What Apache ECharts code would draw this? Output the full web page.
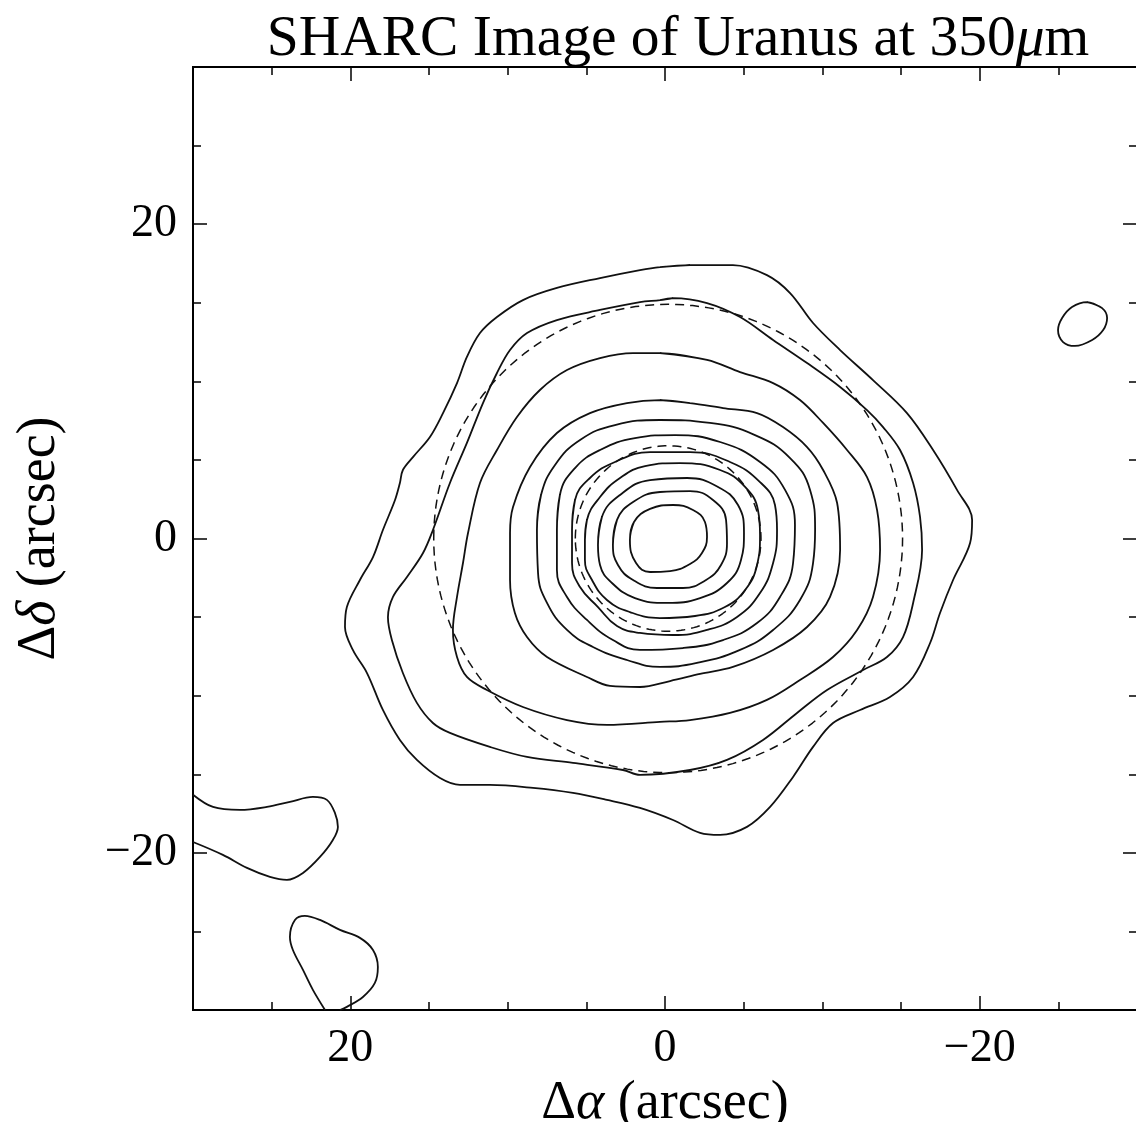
<!DOCTYPE html>
<html>
<head>
<meta charset="utf-8">
<script src="https://cdn.jsdelivr.net/npm/echarts@6/dist/echarts.min.js"></script>
<style>
  html, body { margin: 0; padding: 0; background: #fff; }
  #chart { width: 1136px; height: 1122px; }
</style>
</head>
<body>
<div id="chart"></div>
<script>
// Contour loops of the 350 micron map, outermost level first.
// Each point is [Δα, Δδ] in arcsec.
const contour11 = [
  [0.32,17.27],[-1.59,17.40],[-4.32,17.40],[-6.48,16.76],[-7.95,15.62],[-9.41,13.71],
  [-11.13,11.99],[-13.22,10.08],[-15.38,7.98],[-17.04,5.63],[-18.56,3.09],[-19.52,1.18],
  [-19.39,-0.29],[-18.31,-2.64],[-17.48,-4.74],[-16.85,-6.65],[-15.77,-8.81],[-14.30,-10.08],
  [-12.40,-10.91],[-10.68,-11.74],[-9.41,-13.26],[-8.14,-15.17],[-6.68,-17.08],[-5.21,-18.35],
  [-3.50,-18.86],[-2.23,-18.73],[-0.51,-17.91],[1.59,-17.14],[3.69,-16.63],[5.85,-16.19],
  [8.39,-15.87],[11.13,-15.68],[13.03,-15.68],[14.30,-15.24],[15.77,-14.09],[16.85,-12.82],
  [17.93,-10.91],[18.94,-8.56],[19.84,-7.09],[20.34,-5.63],[20.22,-4.36],[19.39,-2.64],
  [18.56,-1.18],[17.93,0.54],[17.16,2.45],[16.85,3.53],[16.66,4.36],[16.02,5.18],
  [14.94,6.46],[14.11,7.98],[13.22,9.89],[12.59,11.55],[11.76,13.07],[10.68,14.09],
  [9.03,15.17],[6.87,15.94],[4.13,16.57],[1.59,17.08]
];
const contour10 = [
  [0.32,15.17],[-0.51,15.30],[-2.67,14.98],[-4.77,14.09],[-6.87,12.63],[-9.03,11.16],
  [-11.13,9.64],[-12.84,8.17],[-13.86,7.09],[-14.94,5.63],[-15.77,3.53],[-16.21,1.37],
  [-16.34,-0.73],[-15.77,-4.10],[-15.13,-6.27],[-14.11,-7.54],[-12.59,-8.37],[-10.30,-9.64],
  [-8.39,-11.10],[-6.23,-12.82],[-3.94,-14.09],[-1.59,-14.73],[1.59,-15.04],[2.67,-14.73],
  [5.85,-14.28],[8.77,-13.90],[11.13,-13.26],[13.67,-12.37],[14.75,-11.74],[15.77,-10.46],
  [16.66,-8.56],[17.36,-6.46],[17.61,-5.01],[17.29,-3.72],[16.40,-2.45],[15.38,-0.92],
  [14.75,0.54],[13.67,3.53],[12.59,6.08],[11.57,8.62],[10.68,10.53],[9.85,11.99],
  [8.77,13.07],[6.87,13.90],[4.13,14.54],[1.59,15.04]
];
const contour9 = [
  [0.32,11.80],[-2.67,11.36],[-4.77,10.59],[-6.87,9.89],[-8.58,8.81],[-10.05,7.35],
  [-11.57,5.63],[-12.84,3.91],[-13.48,1.81],[-13.67,-0.73],[-13.22,-3.72],[-12.21,-5.82],
  [-10.68,-7.54],[-8.58,-9.00],[-6.48,-10.27],[-4.13,-11.10],[-1.59,-11.55],[0.32,-11.67],
  [3.69,-11.86],[6.23,-11.55],[9.03,-10.72],[11.32,-9.64],[12.59,-8.81],[13.22,-7.54],
  [13.48,-5.82],[13.22,-3.72],[12.84,-1.56],[12.52,0.35],[11.76,3.53],[10.68,5.63],
  [9.41,7.73],[7.95,9.45],[6.23,10.72],[4.13,11.48],[2.03,11.80]
];
const contour8 = [
  [0.32,8.81],[-1.59,8.62],[-3.69,8.30],[-5.85,7.98],[-7.50,7.09],[-9.03,5.82],
  [-10.05,4.36],[-10.94,2.26],[-11.13,-0.73],[-10.49,-3.72],[-9.03,-5.63],[-6.87,-7.09],
  [-4.32,-8.17],[-2.23,-8.62],[-0.32,-9.07],[1.59,-9.45],[3.50,-9.38],[4.96,-8.81],
  [7.50,-7.54],[8.77,-6.27],[9.54,-4.74],[9.85,-2.64],[9.85,0.35],[9.66,2.00],
  [8.58,4.55],[6.87,6.71],[4.77,7.98],[2.42,8.62]
];
const contour7 = [
  [8.14,0.54],[7.88,2.77],[6.99,4.68],[5.40,6.27],[3.18,7.22],[0.32,7.54],
  [-2.86,7.35],[-5.72,6.58],[-7.95,5.12],[-9.22,3.09],[-9.54,0.54],[-9.41,-1.56],
  [-8.58,-3.91],[-6.87,-5.82],[-4.77,-7.09],[-2.03,-7.92],[0.32,-8.17],[2.42,-7.73],
  [4.58,-6.90],[6.23,-5.82],[7.50,-4.10],[8.07,-2.19]
];
const contour6 = [
  [6.87,0.54],[6.68,2.77],[5.72,4.48],[4.13,5.63],[1.91,6.39],[-0.64,6.58],
  [-3.50,6.14],[-6.04,4.87],[-7.63,3.09],[-8.26,0.86],[-8.14,-1.56],[-7.31,-3.72],
  [-5.85,-5.38],[-3.69,-6.46],[-1.14,-6.97],[1.59,-7.09],[3.31,-6.46],[4.96,-5.18],
  [6.23,-3.72],[6.87,-2.00]
];
const contour5 = [
  [5.91,0.54],[5.72,2.45],[4.77,3.85],[3.18,4.87],[0.95,5.50],[-1.59,5.50],
  [-4.13,4.87],[-6.04,3.59],[-6.99,2.13],[-7.12,0.54],[-6.87,-1.56],[-6.04,-3.47],
  [-4.58,-4.99],[-2.67,-5.82],[-0.51,-6.14],[1.59,-6.01],[3.05,-5.57],[4.26,-4.36],
  [5.40,-3.09],[5.91,-1.56]
];
const contour4 = [
  [5.09,-0.10],[4.96,1.18],[4.13,2.64],[2.86,3.85],[1.27,4.61],[-0.95,4.80],
  [-3.50,4.36],[-5.09,3.28],[-5.91,1.81],[-6.04,0.22],[-5.85,-1.69],[-5.09,-3.28],
  [-3.81,-4.36],[-1.91,-4.93],[0.32,-5.06],[2.23,-4.68],[3.69,-3.91],[4.64,-2.64],
  [5.09,-1.37]
];
const contour3 = [
  [4.26,-0.41],[4.01,1.37],[2.86,2.77],[0.95,3.72],[-1.40,3.85],[-3.37,3.28],
  [-4.64,2.13],[-5.02,0.35],[-4.83,-1.37],[-3.94,-2.83],[-2.23,-3.79],[-0.13,-4.10],
  [1.91,-3.79],[3.37,-2.83],[4.13,-1.69]
];
const contour2 = [
  [3.31,-0.41],[3.05,1.18],[2.03,2.32],[0.32,2.96],[-1.59,3.02],[-3.05,2.45],
  [-3.88,1.18],[-3.94,-0.29],[-3.56,-1.69],[-2.61,-2.64],[-1.14,-3.15],[0.51,-3.15],
  [2.03,-2.64],[2.99,-1.69]
];
const contour1 = [
  [2.23,-0.10],[1.97,1.05],[0.95,1.88],[-0.51,2.13],[-1.78,1.81],[-2.54,1.05],
  [-2.67,0.10],[-2.35,-0.92],[-1.59,-1.62],[-0.32,-2.07],[0.95,-2.13],[1.84,-1.56]
];

// Small isolated features away from the planet
const islandEast = [
  [-26.83,15.04],[-27.78,14.66],[-28.10,14.03],[-27.85,13.26],[-27.15,12.63],
  [-26.06,12.25],[-25.30,12.50],[-24.98,13.26],[-25.24,14.03],[-25.87,14.73]
];
const islandWestEdge = [
  [30.0,-16.30],[28.73,-17.08],[27.02,-17.27],[25.30,-17.08],[23.84,-16.76],[22.38,-16.44],
  [21.49,-16.63],[20.98,-17.46],[20.79,-18.35],[21.11,-19.18],[21.93,-20.26],[23.01,-21.28],
  [24.03,-21.72],[25.11,-21.53],[26.57,-20.96],[28.10,-20.13],[30.0,-19.31]
];
const islandSouthEdge = [
  [21.61,-30.0],[22.38,-28.72],[23.01,-27.45],[23.65,-26.18],[23.84,-25.35],[23.52,-24.27],
  [22.89,-24.01],[21.93,-24.27],[20.66,-24.90],[19.39,-25.41],[18.56,-26.18],[18.25,-27.26],
  [18.44,-28.28],[19.20,-29.17],[20.22,-29.80],[20.66,-30.0]
];

// Reference circles (dashed), centre and radii in arcsec
const circleCentre = [-0.2, 0];
const circleRadii = [14.9, 5.9];

// Axis ticks
const majorTicks = [-20, 0, 20];
const minorTicks = [-25, -15, -10, -5, 5, 10, 15, 25];

const FONT = 'Liberation Serif';
const INK = '#111';

function closeLoop(pts) { return pts.concat([pts[0], pts[1]]); }

function circlePoints(c, r) {
  const pts = [];
  for (let i = 0; i <= 180; i++) {
    const t = (i / 180) * Math.PI * 2;
    pts.push([c[0] + r * Math.cos(t), c[1] + r * Math.sin(t)]);
  }
  return pts;
}

function fmt(v) { return v < 0 ? '\u2212' + Math.abs(v) : String(v); }

function axis(dim, position, ticks, len, withLabels) {
  return {
    type: 'value', min: -30, max: 30, position: position,
    inverse: dim === 'x',
    gridIndex: 0,
    axisLine: { show: true, onZero: false, lineStyle: { color: '#000', width: 2 } },
    axisTick: { show: true, inside: true, length: len, customValues: ticks,
                lineStyle: { color: '#000', width: 1.5 } },
    axisLabel: { show: withLabels, customValues: majorTicks, formatter: fmt,
                 fontFamily: FONT, fontSize: 46, color: '#000', margin: 16 },
    splitLine: { show: false }
  };
}

const outerLevels = [contour11, contour10, contour9, contour8, islandEast];
const innerLevels = [contour7, contour6, contour5, contour4, contour3, contour2, contour1];

const series = [];
outerLevels.forEach(function (c) {
  series.push({ type: 'line', data: closeLoop(c), smooth: 0.35, showSymbol: false,
    symbol: 'none', silent: true, clip: true,
    lineStyle: { color: INK, width: 1.8 } });
});
innerLevels.forEach(function (c) {
  series.push({ type: 'line', data: closeLoop(c), smooth: 0.45, showSymbol: false,
    symbol: 'none', silent: true, clip: true,
    lineStyle: { color: INK, width: 1.8 } });
});
[islandWestEdge, islandSouthEdge].forEach(function (c) {
  series.push({ type: 'line', data: c, smooth: 0.35, showSymbol: false, symbol: 'none',
    silent: true, clip: true, lineStyle: { color: INK, width: 1.8 } });
});
circleRadii.forEach(function (r) {
  series.push({ type: 'line', data: circlePoints(circleCentre, r), smooth: false,
    showSymbol: false, symbol: 'none', silent: true, clip: true,
    lineStyle: { color: INK, width: 1.5, type: [9, 6] } });
});

const nameStyle = { rich: {
  g: { fontFamily: FONT, fontSize: 54, color: '#000' },
  i: { fontFamily: FONT, fontSize: 54, color: '#000', fontStyle: 'italic' } } };

const xBottom = axis('x', 'bottom', majorTicks, 14, true);
xBottom.name = '{g|\u0394}{i|\u03b1}{g| (arcsec)}';
xBottom.nameLocation = 'middle';
xBottom.nameGap = 51;
xBottom.nameTextStyle = nameStyle;

const yLeft = axis('y', 'left', majorTicks, 14, true);
yLeft.name = '{g|\u0394}{i|\u03b4}{g| (arcsec)}';
yLeft.nameLocation = 'middle';
yLeft.nameRotate = 90;
yLeft.nameGap = 126;
yLeft.nameTextStyle = nameStyle;

const chart = echarts.init(document.getElementById('chart'), null, { renderer: 'canvas' });
chart.setOption({
  animation: false,
  backgroundColor: '#fff',
  title: {
    text: '{g|SHARC Image of Uranus at 350}{i|\u03bc}{g|m}',
    left: 673, top: 6, textAlign: 'center',
    textStyle: { fontWeight: 'normal', rich: {
      g: { fontFamily: FONT, fontSize: 57.5, fontWeight: 'normal', color: '#000' },
      i: { fontFamily: FONT, fontSize: 57.5, fontWeight: 'normal', color: '#000', fontStyle: 'italic' } } }
  },
  grid: { left: 193, top: 67, width: 944, height: 943, containLabel: false,
          outerBoundsMode: 'none' },
  xAxis: [
    xBottom,
    axis('x', 'bottom', minorTicks, 8, false),
    axis('x', 'top', majorTicks, 14, false),
    axis('x', 'top', minorTicks, 8, false)
  ],
  yAxis: [
    yLeft,
    axis('y', 'left', minorTicks, 8, false),
    axis('y', 'right', majorTicks, 14, false),
    axis('y', 'right', minorTicks, 8, false)
  ],
  series: series
});
</script>
</body>
</html>
